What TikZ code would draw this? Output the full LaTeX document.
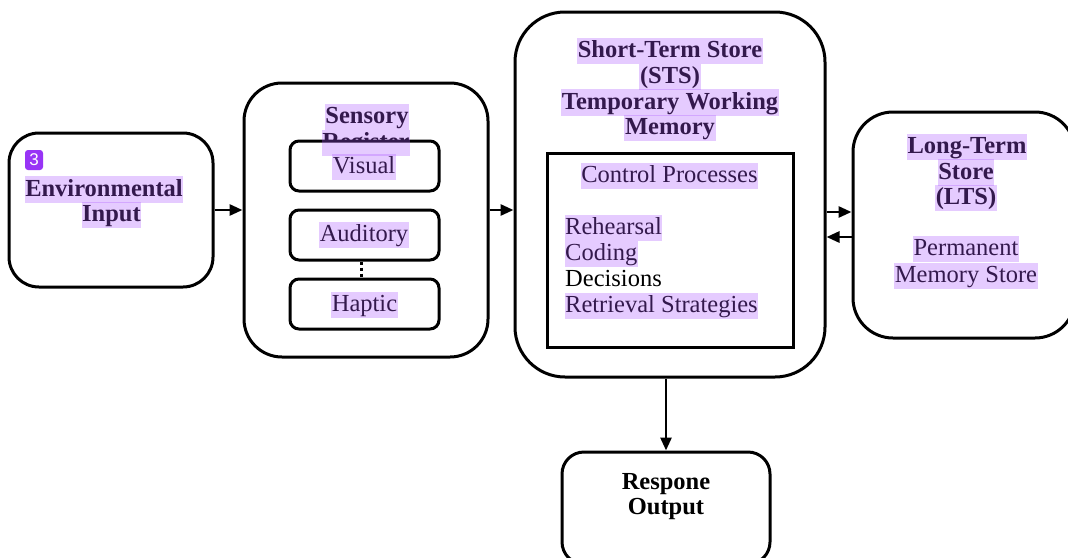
\documentclass[tikz,border=0pt]{standalone}
\usepackage{fontspec}
\setmainfont{Liberation Serif}
\newfontfamily\badgefont{Liberation Sans}
\usetikzlibrary{arrows.meta}
\definecolor{hlpurple}{RGB}{172,85,255}
\definecolor{badgepurple}{RGB}{152,52,246}

\begin{document}
\begin{tikzpicture}
    [%%%%%%%%%%%%%%%%%%%%%%%%%%%%%%
        x=1pt, y=-1pt,
        box/.style={rectangle, draw=black, line width=3pt, fill=white},
        subbox/.style={box, rounded corners=9pt, minimum width=149pt, minimum height=50pt},
        txt/.style={inner xsep=0.5pt, inner ysep=0.5pt, text height=19pt, text depth=6pt, font=\fontsize{24.5}{26}\selectfont},
        btxt/.style={txt, font=\fontsize{24.5}{26}\selectfont\bfseries},
        hilite/.style={fill=hlpurple, fill opacity=0.3},
        arr/.style={line width=2.8pt, -{Triangle[length=13pt,width=11pt]}},
    ]%%%%%%%%%%%%%%%%%%%%%%%%%%%%%%
\useasboundingbox (0,0) rectangle (1068,557);
\fill[white] (0,0) rectangle (1068,557);
\clip (0,0) rectangle (1068,557);

\node[box, rounded corners=30pt, minimum width=204pt, minimum height=154pt] (env) at (111,210) {};
\node[box, rounded corners=38pt, minimum width=244pt, minimum height=274pt] (sens) at (366,220) {};
\node[box, rounded corners=50pt, minimum width=310pt, minimum height=365pt] (sts) at (670,194.5) {};
\node[box, minimum width=246pt, minimum height=194pt] (cp) at (670,250) {};
\node[box, rounded corners=40pt, minimum width=222pt, minimum height=226pt] (lts) at (964,225) {};
\node[box, rounded corners=22pt, minimum width=208pt, minimum height=112pt] (resp) at (666,508) {};

\node[btxt] (env1) at (104,189.5) {Environmental};
\node[btxt] (env2) at (111.5,215) {Input};

\node[btxt] (sens1) at (367,117) {Sensory};
\node[btxt] (sens2) at (366,143) {Register};
\node[subbox] (vis) at (364.5,166) {};
\node[subbox] (aud) at (364.5,235) {};
\node[subbox] (hap) at (364.5,304) {};
\node[txt] (visT) at (364,167) {Visual};
\node[txt] (audT) at (364,235) {Auditory};
\node[txt] (hapT) at (364.5,305) {Haptic};
\draw[line width=3pt, dash pattern=on 3pt off 3pt] ([xshift=-3.5pt]aud.south) -- ([xshift=-3.5pt]hap.north);

\node[btxt] (sts1) at (670,51) {Short-Term Store};
\node[btxt] (sts2) at (670,77) {(STS)};
\node[btxt] (sts3) at (670,102.5) {Temporary Working};
\node[btxt] (sts4) at (670,128) {Memory};
\node[txt] (cpT) at (669.5,176) {Control Processes};
\node[txt, anchor=west] (reh) at (564.5,228) {Rehearsal};
\node[txt, anchor=west] (cod) at (564.5,254) {Coding};
\node[txt, anchor=west] (dec) at (564.5,280) {Decisions};
\node[txt, anchor=west] (ret) at (564.5,306) {Retrieval Strategies};

\node[btxt] (lts1) at (967,147) {Long-Term};
\node[btxt] (lts2) at (966,172.5) {Store};
\node[btxt] (lts3) at (966,198) {(LTS)};
\node[txt] (lts4) at (966,249) {Permanent};
\node[txt] (lts5) at (966,276) {Memory Store};

\node[btxt] (resp1) at (666,483) {Respone};
\node[btxt] (resp2) at (666,508) {Output};

\coordinate (ltsin) at ([yshift=13pt]lts.west);
\coordinate (ltsout) at ([yshift=-12pt]lts.west);
\draw[arr] (env.east) -- (env.east -| sens.west);
\draw[arr] (sens.east |- env.east) -- (sts.west |- env.east);
\draw[arr] (sts.east |- ltsin) -- (ltsin);
\draw[arr] (ltsout) -- (sts.east |- ltsout);
\draw[arr] (resp.north |- sts.south) -- (resp.north);

\foreach \n in {env1,env2,sens1,sens2,visT,audT,hapT,sts1,sts2,sts3,sts4,cpT,reh,cod,ret,lts1,lts2,lts3,lts4,lts5}
    \fill[hilite] (\n.south west) rectangle (\n.north east);

\node[fill=badgepurple, rounded corners=3pt, minimum width=18pt, minimum height=20pt, inner sep=0pt,
      text=white, font=\badgefont\fontsize{17}{17}\selectfont] (badge) at (34,160) {3};
\end{tikzpicture}
\end{document}
